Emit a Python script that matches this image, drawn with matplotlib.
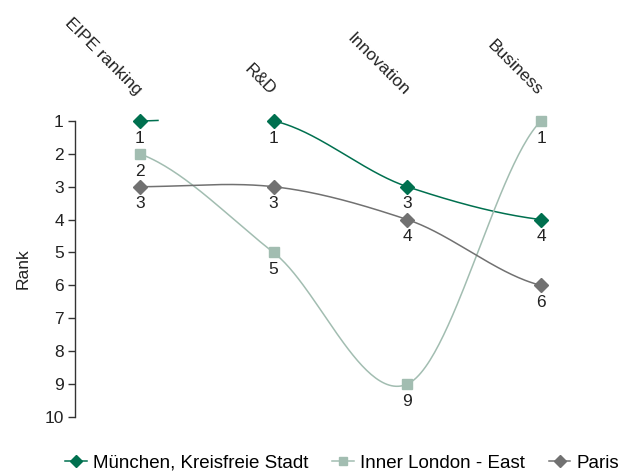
import numpy as np
import matplotlib.pyplot as plt
import matplotlib.transforms as mtransforms
from matplotlib.lines import Line2D

plt.rcParams['font.family'] = ['Liberation Sans', 'DejaVu Sans']

categories = ["EIPE ranking", "R&D", "Innovation", "Business"]
series_names = ["München, Kreisfreie Stadt", "Inner London - East", "Paris"]
munich = [1, 1, 3, 4]
london = [2, 5, 9, 1]
paris = [3, 3, 4, 6]

colors = ["#00704F", "#A2BDB1", "#717171"]
markers = ["D", "s", "D"]
msizes = [7.5, 7.5, 7.5]


def smooth(ys, n=60, k_tan=0.45):
    # cubic hermite through the points, catmull-rom style tangents
    ys = np.asarray(ys, float)
    k = len(ys)
    m = np.zeros(k)
    for i in range(k):
        if i == 0:
            m[i] = (ys[1] - ys[0]) * 0.5
        elif i == k - 1:
            m[i] = (ys[-1] - ys[-2]) * 0.5
        else:
            m[i] = (ys[i + 1] - ys[i - 1]) * k_tan
    xs_out, ys_out = [], []
    for i in range(k - 1):
        t = np.linspace(0, 1, n)
        h00 = 2 * t**3 - 3 * t**2 + 1
        h10 = t**3 - 2 * t**2 + t
        h01 = -2 * t**3 + 3 * t**2
        h11 = t**3 - t**2
        xs_out.append(i + t)
        ys_out.append(h00 * ys[i] + h10 * m[i] + h01 * ys[i + 1] + h11 * m[i + 1])
    return np.concatenate(xs_out), np.concatenate(ys_out)


fig = plt.figure(figsize=(6.3, 4.76), dpi=100)
ax = fig.add_axes([0.119, 0.124, 0.846, 0.622])

x = np.arange(len(categories))
for vals, c, mk, ms in zip([munich, london, paris], colors, markers, msizes):
    sx, sy = smooth(vals)
    if vals is munich:
        # the first segment only shows as a short stub in the original
        sy = np.where((sx > 0.14) & (sx < 1), np.nan, sy)
    ax.plot(sx, sy, color=c, lw=1.1, zorder=2, clip_on=False)
    ax.plot(x, vals, ls="none", marker=mk, ms=ms, color=c, mec=c, zorder=3,
            clip_on=False)
    for xi, v in zip(x, vals):
        ax.annotate(str(v), (xi, v), xytext=(0, -7), textcoords="offset points",
                    ha="center", va="top", fontsize=12.5, color="#222222")

ax.set_xlim(-0.485, 3.5)
ax.set_ylim(10, 1)
ax.set_yticks(range(1, 11))
ax.set_xticks([])
ax.tick_params(axis="y", length=5, width=1, color="#333333", labelsize=12.5,
               labelcolor="#222222", pad=3)
for s in ["top", "right", "bottom"]:
    ax.spines[s].set_visible(False)
ax.spines["left"].set_color("#333333")
ax.spines["left"].set_linewidth(1)
ax.set_ylabel("Rank", fontsize=12.5, color="#222222", labelpad=10)

# rotated category headers, ending just above each column
trans = mtransforms.blended_transform_factory(ax.transData, ax.transAxes)
for i, cat in enumerate(categories):
    ax.text(i - 0.03, 1.084, cat, transform=trans, rotation=-45,
            rotation_mode="anchor", ha="right", va="baseline", fontsize=12.5,
            color="#222222")

handles = [Line2D([0], [0], color=c, marker=mk, ms=ms * 0.8, lw=1.1)
           for c, mk, ms in zip(colors, markers, msizes)]
fig.legend(handles, series_names, loc="center", bbox_to_anchor=(0.543, 0.027),
           ncol=3, frameon=False, fontsize=13.5, handlelength=1.15,
           handletextpad=0.3, columnspacing=1.3)

fig.savefig("out.png", dpi=100)
